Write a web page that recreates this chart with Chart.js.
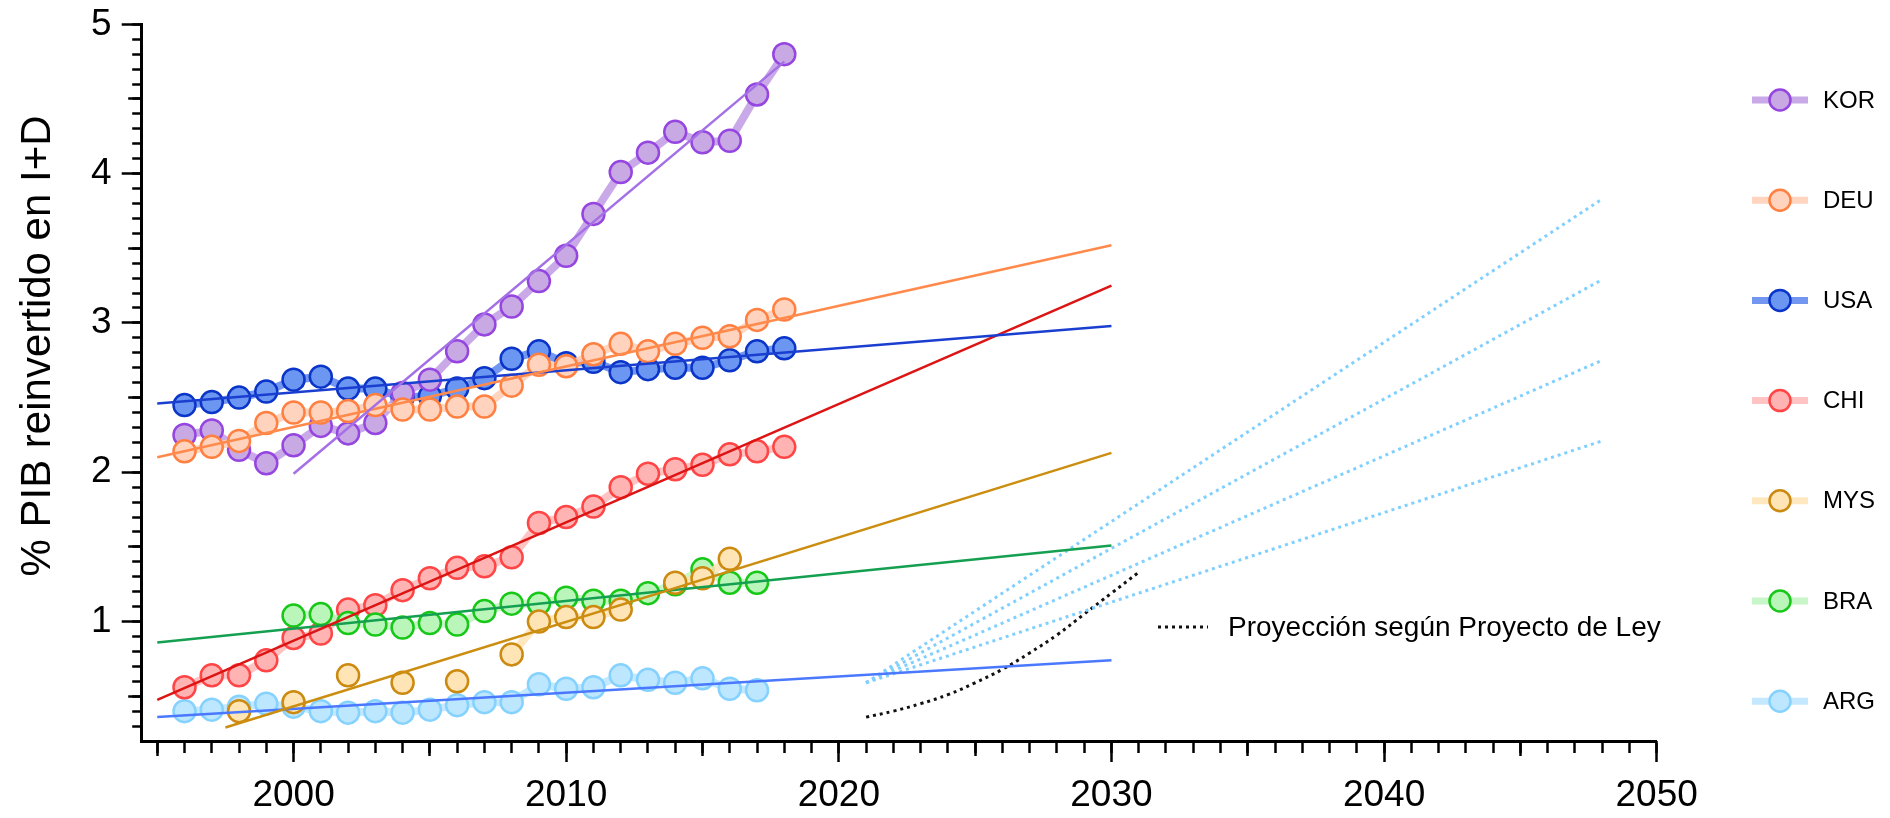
<!DOCTYPE html>
<html>
<head>
<meta charset="utf-8">
<script src="https://cdn.jsdelivr.net/npm/chart.js@4.4.1/dist/chart.umd.min.js"></script>
<style>
  html, body { margin: 0; padding: 0; background: #fff; }
  canvas { display: block; }
</style>
</head>
<body>
<canvas id="chart" width="1890" height="818"></canvas>
<script>
// Gasto en I+D como % del PIB, 1996-2018, por país
const years = [1996,1997,1998,1999,2000,2001,2002,2003,2004,2005,2006,2007,2008,2009,2010,2011,2012,2013,2014,2015,2016,2017,2018];

const KOR = [2.25,2.28,2.15,2.06,2.18,2.31,2.26,2.33,2.53,2.62,2.81,2.99,3.11,3.28,3.45,3.73,4.01,4.14,4.28,4.21,4.22,4.53,4.80];
const DEU = [2.14,2.17,2.21,2.33,2.40,2.40,2.41,2.45,2.42,2.42,2.44,2.44,2.58,2.72,2.71,2.79,2.86,2.81,2.86,2.90,2.91,3.02,3.09];
const USA = [2.45,2.47,2.50,2.54,2.62,2.64,2.56,2.56,2.50,2.51,2.56,2.63,2.76,2.81,2.73,2.74,2.67,2.69,2.70,2.70,2.75,2.81,2.83];
const CHI = [0.56,0.64,0.64,0.74,0.89,0.92,1.08,1.11,1.21,1.29,1.36,1.37,1.43,1.66,1.70,1.77,1.90,1.99,2.02,2.05,2.12,2.14,2.17];
const MYS = [null,null,0.40,null,0.46,null,0.64,null,0.59,null,0.60,null,0.78,1.00,1.03,1.03,1.08,null,1.26,1.29,1.42,null,null];
const BRA = [null,null,null,null,1.04,1.05,0.99,0.98,0.96,0.99,0.98,1.07,1.12,1.12,1.16,1.14,1.14,1.19,1.25,1.35,1.26,1.26,null];
const ARG = [0.40,0.41,0.43,0.45,0.43,0.40,0.39,0.40,0.39,0.41,0.44,0.46,0.46,0.58,0.55,0.56,0.64,0.61,0.59,0.62,0.55,0.54,null];

const countries = ['KOR','DEU','USA','CHI','MYS','BRA','ARG'];
const seriesValues = [KOR, DEU, USA, CHI, MYS, BRA, ARG];

// Tendencias lineales: año inicial, año final, valor inicial, valor final
const fitFromYear = [2000, 1995, 1995, 1995, 1997.5, 1995, 1995];
const fitToYear   = [2018, 2030, 2030, 2030, 2030, 2030, 2030];
const fitFromVal  = [1.99, 2.10, 2.46, 0.475, 0.29, 0.86, 0.36];
const fitToVal    = [4.75, 3.52, 2.98, 3.25, 2.13, 1.51, 0.74];

// Escenarios de crecimiento para ARG
const scenarioYears = [2021, 2048];
const scenarioStart = 0.59;
const scenarioEnds = [3.83, 3.29, 2.75, 2.21];

// Proyección según Proyecto de Ley
const lawYears  = [2021,2022,2023,2024,2025,2026,2027,2028,2029,2030,2031];
const lawValues = [0.36,0.40,0.45,0.51,0.59,0.68,0.79,0.91,1.05,1.19,1.33];

// Marcas de los ejes
const xMajorTicks = [2000, 2010, 2020, 2030, 2040, 2050];
const yMajorTicks = [1, 2, 3, 4, 5];
const yTitle = '% PIB reinvertido en I+D';
const noteText = 'Proyección según Proyecto de Ley';

// Estilos
const pointFill = ['#c9a9e3','#ffd3bd','#6b96f2','#ffb3b3','#ffe5b5','#baf6ba','#bde6ff'];
const pointEdge = ['#9545e0','#ff8040','#0a35c8','#ff4545','#cc8a10','#18c818','#86d2ff'];
const pathColor = ['rgba(195,160,228,0.9)','rgba(255,208,185,0.9)','rgba(100,140,240,0.9)','rgba(255,185,185,0.85)','rgba(255,228,180,0.85)','rgba(190,245,190,0.85)','rgba(190,230,255,0.9)'];
const fitColor  = ['#a570e6','#ff8a4c','#1a3fd0','#dc1414','#cc8e10','#14a050','#4a78ff'];
const drawOrder = [5, 4, 6, 3, 1, 2, 7];

const FONT = '"Liberation Sans", Arial, Helvetica, sans-serif';

const datasets = [];
countries.forEach((name, i) => {
  datasets.push({
    label: name,
    data: years.map((yr, k) => ({ x: yr, y: seriesValues[i][k] })),
    showLine: true,
    spanGaps: false,
    borderColor: pathColor[i],
    borderWidth: 8,
    pointRadius: 11,
    pointBorderWidth: 2.5,
    pointBackgroundColor: pointFill[i],
    pointBorderColor: pointEdge[i],
    order: drawOrder[i]
  });
});
countries.forEach((name, i) => {
  datasets.push({
    label: name + ' tendencia',
    data: [{ x: fitFromYear[i], y: fitFromVal[i] }, { x: fitToYear[i], y: fitToVal[i] }],
    showLine: true,
    borderColor: fitColor[i],
    borderWidth: 2.5,
    pointRadius: 0,
    order: 0
  });
});
scenarioEnds.forEach((end, i) => {
  datasets.push({
    label: 'Escenario ' + (i + 1),
    data: [{ x: scenarioYears[0], y: scenarioStart }, { x: scenarioYears[1], y: end }],
    showLine: true,
    borderColor: '#80d0ff',
    borderWidth: 3,
    borderDash: [3, 4],
    pointRadius: 0,
    order: 0
  });
});
datasets.push({
  label: noteText,
  data: lawYears.map((yr, k) => ({ x: yr, y: lawValues[k] })),
  showLine: true,
  borderColor: '#111',
  borderWidth: 3,
  borderDash: [3, 4],
  tension: 0.4,
  pointRadius: 0,
  order: 0
});

const X_MIN = 1994.43, X_MAX = 2050, Y_MIN = 0.2, Y_MAX = 5;
const range = (a, b, step) => { const out = []; for (let v = a; v <= b + 1e-9; v += step) out.push(Math.round(v * 10) / 10); return out; };

function tickAxis(kind, values, len, weight) {
  const horizontal = kind === 'x';
  return {
    type: 'linear',
    position: horizontal ? 'bottom' : 'left',
    min: horizontal ? X_MIN : Y_MIN,
    max: horizontal ? X_MAX : Y_MAX,
    weight: weight,
    afterBuildTicks: s => { s.ticks = values.map(v => ({ value: v })); },
    afterFit: s => {
      if (horizontal) s.height = 0; else s.width = 0;
      s.paddingLeft = s.paddingRight = s.paddingTop = s.paddingBottom = 0;
    },
    border: { display: false },
    grid: { drawOnChartArea: false, drawTicks: true, tickLength: len, tickWidth: 2.5, tickColor: '#000' },
    ticks: { display: false, autoSkip: false }
  };
}

const sideDecor = {
  id: 'sideDecor',
  afterDraw(chart) {
    const ctx = chart.ctx;
    ctx.save();
    // título del eje Y
    ctx.translate(38, 346);
    ctx.rotate(-Math.PI / 2);
    ctx.fillStyle = '#000';
    ctx.font = '42px ' + FONT;
    ctx.textAlign = 'center';
    ctx.textBaseline = 'middle';
    ctx.fillText(yTitle, 0, 0);
    ctx.restore();

    // leyenda de países
    ctx.save();
    countries.forEach((name, i) => {
      const y = 100 + i * 100.2;
      ctx.strokeStyle = pathColor[i];
      ctx.lineWidth = 7;
      ctx.beginPath(); ctx.moveTo(1752, y); ctx.lineTo(1808, y); ctx.stroke();
      ctx.beginPath(); ctx.arc(1780, y, 10.5, 0, Math.PI * 2);
      ctx.fillStyle = pointFill[i]; ctx.fill();
      ctx.lineWidth = 2.5; ctx.strokeStyle = pointEdge[i]; ctx.stroke();
      ctx.fillStyle = '#000';
      ctx.font = '24px ' + FONT;
      ctx.textAlign = 'left';
      ctx.textBaseline = 'middle';
      ctx.fillText(name, 1823, y + 1);
    });
    ctx.restore();

    // nota de la proyección
    ctx.save();
    ctx.strokeStyle = '#111';
    ctx.lineWidth = 3;
    ctx.setLineDash([3, 4]);
    ctx.beginPath(); ctx.moveTo(1158, 627); ctx.lineTo(1208, 627); ctx.stroke();
    ctx.setLineDash([]);
    ctx.fillStyle = '#000';
    ctx.font = '28px ' + FONT;
    ctx.textAlign = 'left';
    ctx.textBaseline = 'middle';
    ctx.fillText(noteText, 1228, 628);
    ctx.restore();
  }
};

new Chart(document.getElementById('chart'), {
  type: 'scatter',
  data: { datasets },
  options: {
    responsive: false,
    devicePixelRatio: 1,
    animation: false,
    events: [],
    layout: { padding: { left: 0, top: 24.3, right: 233.3, bottom: 0 } },
    plugins: { legend: { display: false }, tooltip: { enabled: false } },
    scales: {
      x: {
        type: 'linear', position: 'bottom', min: X_MIN, max: X_MAX, weight: 10,
        afterBuildTicks: s => { s.ticks = xMajorTicks.map(v => ({ value: v })); },
        afterFit: s => { s.height = 77; s.paddingLeft = s.paddingRight = 0; },
        border: { display: true, color: '#000', width: 3 },
        grid: { drawOnChartArea: false, drawTicks: true, tickLength: 21, tickWidth: 2.5, tickColor: '#000' },
        ticks: { autoSkip: false, maxRotation: 0, padding: 12, color: '#000', font: { family: FONT, size: 37 }, callback: v => String(v) }
      },
      xHalf: tickAxis('x', range(1995, 2045, 10), 15, 1),
      xMinor: tickAxis('x', range(1995, 2050, 1), 12, 0),
      y: {
        type: 'linear', position: 'left', min: Y_MIN, max: Y_MAX, weight: 10,
        afterBuildTicks: s => { s.ticks = yMajorTicks.map(v => ({ value: v })); },
        afterFit: s => { s.width = 141.7; s.paddingTop = s.paddingBottom = 0; },
        border: { display: true, color: '#000', width: 3 },
        grid: { drawOnChartArea: false, drawTicks: true, tickLength: 20, tickWidth: 2.5, tickColor: '#000' },
        ticks: { autoSkip: false, padding: 10, color: '#000', font: { family: FONT, size: 37 }, callback: v => String(v) }
      },
      yHalf: tickAxis('y', range(0.5, 4.5, 1), 13.5, 1),
      yMinor: tickAxis('y', range(0.3, 5, 0.1), 9.5, 0)
    }
  },
  plugins: [sideDecor]
});
</script>
</body>
</html>
